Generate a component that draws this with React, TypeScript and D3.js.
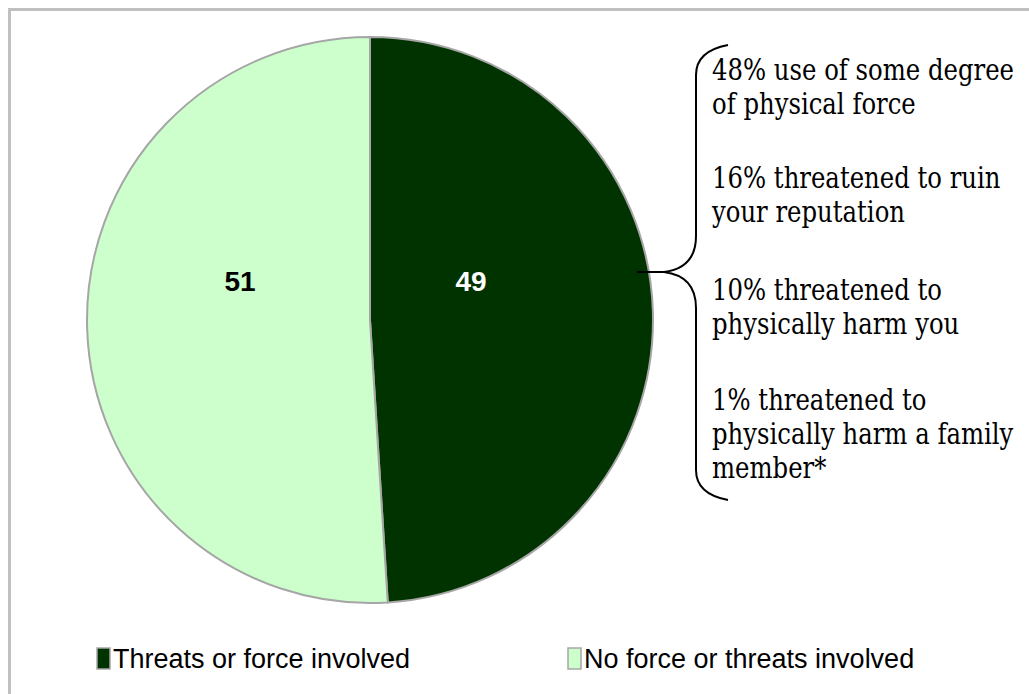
import React from "react";
import * as d3 from "d3";

const categories = ["Threats or force involved", "No force or threats involved"];
const values = [49, 51];
const colors = ["#003300", "#CCFFCC"];
const labelColors = ["#ffffff", "#000000"];
const noteLines = [
  ["48% use of some degree", "of physical force"],
  ["16% threatened to ruin", "your reputation"],
  ["10% threatened to", "physically harm you"],
  ["1% threatened to", "physically harm a family", "member*"],
];

const W = 1029;
const H = 694;
const cx = 370;
const cy = 320;
const R = 283;

export default function App() {
  const pie = d3.pie<number>().sort(null).startAngle(0).endAngle(2 * Math.PI);
  const arcs = pie(values);
  const arcGen = d3.arc<d3.PieArcDatum<number>>().innerRadius(0).outerRadius(R);
  const labelOffsets = [
    [101, -39],
    [-130, -39],
  ];

  const bx = 696;
  const top = 45;
  const mid = 272;
  const bot = 500;
  const tipX = 664;
  const bracePath = [
    `M ${bx + 32} ${top}`,
    `Q ${bx} ${top + 6} ${bx} ${top + 30}`,
    `L ${bx} ${mid - 36}`,
    `Q ${bx} ${mid - 4} ${tipX} ${mid}`,
    `Q ${bx} ${mid + 4} ${bx} ${mid + 36}`,
    `L ${bx} ${bot - 30}`,
    `Q ${bx} ${bot - 6} ${bx + 32} ${bot}`,
  ].join(" ");

  const paraStarts = [80, 188, 300, 410];
  const lineH = 34;

  const legendX = [97, 568];
  const legendY = 648;

  const sans = "'Liberation Sans', Arial, Helvetica, sans-serif";

  return (
    <svg
      width={W}
      height={H}
      style={{ position: "absolute", left: 0, top: 0, background: "#fff" }}
    >
      <rect x={9.5} y={9.5} width={1100} height={800} fill="#fff" stroke="#c0c0c0" strokeWidth={3} />
      <g transform={`translate(${cx},${cy})`}>
        {arcs.map((a, i) => (
          <path key={i} d={arcGen(a) || ""} fill={colors[i]} stroke="#a6a6a6" strokeWidth={2} />
        ))}
        {arcs.map((a, i) => (
          <text
            key={"l" + i}
            x={labelOffsets[i][0]}
            y={labelOffsets[i][1]}
            textAnchor="middle"
            dominantBaseline="central"
            fontFamily={sans}
            fontWeight="bold"
            fontSize={28}
            fill={labelColors[i]}
          >
            {a.data}
          </text>
        ))}
      </g>
      <line x1={637} y1={mid} x2={tipX} y2={mid} stroke="#000" strokeWidth={2} />
      <path d={bracePath} fill="none" stroke="#000" strokeWidth={2} />
      <g transform="translate(712,0) scale(0.84,1)">
        {noteLines.map((p, i) =>
          p.map((t, j) => (
            <text
              key={i + "-" + j}
              x={0}
              y={paraStarts[i] + j * lineH}
              style={{ fontFamily: "'DejaVu Serif', serif" }}
              fontSize={29}
              fill="#000"
            >
              {t}
            </text>
          ))
        )}
      </g>
      {categories.map((c, i) => (
        <g key={c}>
          <rect x={legendX[i]} y={legendY} width={13} height={21} fill={colors[i]} stroke="#a6a6a6" strokeWidth={1.5} />
          <text
            x={legendX[i] + 16}
            y={legendY + 20}
            fontFamily={sans}
            fontSize={27}
            fill="#000"
          >
            {c}
          </text>
        </g>
      ))}
    </svg>
  );
}
